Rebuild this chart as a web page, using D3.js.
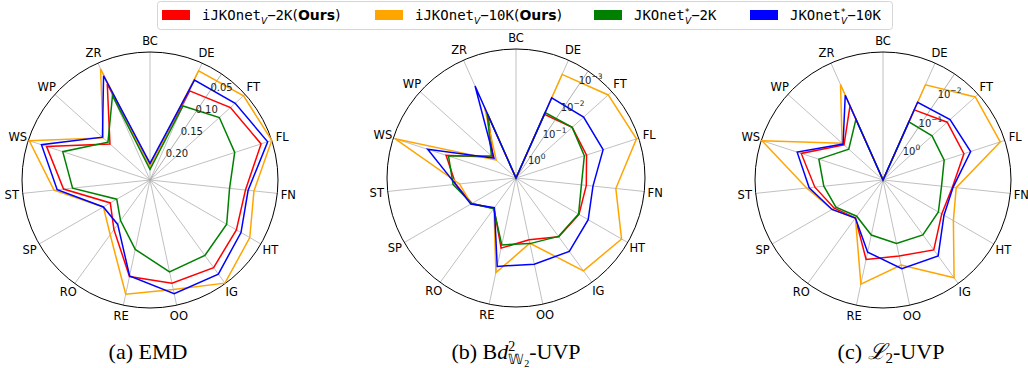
<!DOCTYPE html>
<html>
<head>
<meta charset="utf-8">
<script src="https://cdn.jsdelivr.net/npm/d3@7"></script>
<style>
body { margin: 0; background: #fff; }
</style>
</head>
<body>
<div id="container"></div>
<script>
// ---- data ----
var categories = ["BC", "DE", "FT", "FL", "FN", "HT", "IG", "OO", "RE", "RO", "SP", "ST", "WS", "WP", "ZR"];
var seriesColors = ["#ff0000", "#ffa500", "#008000", "#0000ff"];

// (a) EMD  (lower is better, axis inverted)
var emd_iJKOnet_2K  = [0.241, 0.087, 0.067, 0.051, 0.090, 0.083, 0.067, 0.072, 0.085, 0.155, 0.184, 0.107, 0.066, 0.169, 0.073];
var emd_iJKOnet_10K = [0.244, 0.046, 0.034, 0.030, 0.074, 0.054, 0.031, 0.060, 0.051, 0.143, 0.169, 0.089, 0.032, 0.152, 0.042];
var emd_JKOnet_2K   = [0.250, 0.118, 0.095, 0.103, 0.120, 0.104, 0.095, 0.094, 0.137, 0.176, 0.198, 0.124, 0.098, 0.164, 0.097];
var emd_JKOnet_10K  = [0.239, 0.065, 0.055, 0.038, 0.085, 0.073, 0.052, 0.052, 0.086, 0.167, 0.169, 0.095, 0.056, 0.150, 0.056];

// (b) Bd^2_W2-UVP (log, inverted)
var bw_iJKOnet_2K  = [10, 0.0446, 0.0291, 0.0322, 0.0414, 0.0357, 0.0357, 0.0708, 0.0385, 0.451, 0.171, 0.0853, 0.0338, 0.716, 0.0489];
var bw_iJKOnet_10K = [10, 0.00193, 0.000897, 0.000745, 0.00492, 0.00105, 0.00175, 0.0552, 0.00638, 0.451, 0.163, 0.1125, 0.000711, 0.973, 0.0256];
var bw_JKOnet_2K   = [10, 0.0388, 0.0291, 0.0381, 0.0589, 0.0371, 0.0371, 0.0537, 0.0489, 0.435, 0.171, 0.0708, 0.0406, 0.618, 0.0406];
var bw_JKOnet_10K  = [10, 0.0122, 0.00968, 0.00924, 0.0256, 0.0167, 0.00986, 0.0119, 0.0101, 0.472, 0.156, 0.0853, 0.00843, 0.785, 0.00483];

// (c) L2-UVP (log, inverted)
var l2_iJKOnet_2K  = [20, 0.0839, 0.0439, 0.0479, 0.135, 0.154, 0.0439, 0.0791, 0.0620, 0.631, 0.336, 0.147, 0.045, 0.435, 0.0625];
var l2_iJKOnet_10K = [20, 0.0131, 0.00341, 0.00362, 0.104, 0.0620, 0.00424, 0.042, 0.0113, 0.631, 0.282, 0.0839, 0.00277, 0.366, 0.0129];
var l2_JKOnet_2K   = [20, 0.205, 0.174, 0.195, 0.282, 0.2, 0.154, 0.188, 0.336, 0.731, 0.382, 0.27, 0.158, 0.67, 0.168];
var l2_JKOnet_10K  = [20, 0.0479, 0.0338, 0.0297, 0.129, 0.129, 0.0265, 0.033, 0.103, 0.631, 0.282, 0.0998, 0.0338, 0.399, 0.0284];

var emdTicks = [0.05, 0.10, 0.15, 0.20];
var bwTicks = [1e-3, 1e-2, 1e-1, 1];
var l2Ticks = [1e-2, 1e-1, 1];

var legendItems = [
	{ name: "iJKOnet", star: false, size: "2K", ours: true },
	{ name: "iJKOnet", star: false, size: "10K", ours: true },
	{ name: "JKOnet", star: true, size: "2K", ours: false },
	{ name: "JKOnet", star: true, size: "10K", ours: false }
];

// ---- setup ----
var svg = d3.select("#container").append("svg")
	.attr("width", 1028)
	.attr("height", 368)
	.style("font-family", "'DejaVu Sans', sans-serif");

var nCat = categories.length;
var angle = d3.scaleLinear().domain([0, nCat]).range([0, 2 * Math.PI]);
var rLabelAngle = 34 * Math.PI / 180;

function logLabel(sel, v)
{
	var e = Math.round(Math.log10(v));
	sel.append("tspan").text("10");
	sel.append("tspan").attr("dy", -5).style("font-size", "7.5px")
		.text(e < 0 ? "\u2212" + (-e) : "" + e);
}

function drawRadar(p)
{
	var g = svg.append("g").attr("transform", "translate(" + p.cx + "," + p.cy + ")");
	var r = p.scale.range([0, p.R]).clamp(true);

	// spokes
	g.selectAll(null).data(categories).enter().append("line")
		.attr("x1", 0).attr("y1", 0)
		.attr("x2", function(d, i) { return p.R * Math.sin(angle(i)); })
		.attr("y2", function(d, i) { return -p.R * Math.cos(angle(i)); })
		.style("stroke", "#b0b0b0")
		.style("stroke-width", 0.8);

	// radial label line
	g.append("line")
		.attr("x1", 0).attr("y1", 0)
		.attr("x2", p.R * Math.sin(rLabelAngle))
		.attr("y2", -p.R * Math.cos(rLabelAngle))
		.style("stroke", "#9a9a9a")
		.style("stroke-width", 0.8);

	g.append("circle").attr("r", p.R)
		.style("fill", "none").style("stroke", "#000").style("stroke-width", 1);

	// series
	var line = d3.lineRadial()
		.angle(function(d, i) { return angle(i); })
		.radius(function(d) { return r(d); })
		.curve(d3.curveLinearClosed);
	p.series.forEach(function(vals, k)
	{
		g.append("path")
			.attr("d", line(vals))
			.style("fill", "none")
			.style("stroke", seriesColors[k])
			.style("stroke-width", 1.5)
			.style("stroke-linejoin", "miter");
	});

	// radial tick labels
	p.ticks.forEach(function(t)
	{
		var rr = r(t);
		var txt = g.append("text")
			.attr("x", rr * Math.sin(rLabelAngle) + 6)
			.attr("y", -rr * Math.cos(rLabelAngle) + 8)
			.attr("text-anchor", "middle")
			.style("font-size", "10px")
			.style("fill", "#222");
		if (p.log) logLabel(txt, t);
		else txt.text(d3.format(".2f")(t));
	});

	// category labels
	g.selectAll(null).data(categories).enter().append("text")
		.attr("x", function(d, i) { return (p.R + 11) * Math.sin(angle(i)); })
		.attr("y", function(d, i) { return -(p.R + 11) * Math.cos(angle(i)); })
		.attr("text-anchor", "middle")
		.attr("dominant-baseline", "central")
		.style("font-size", "11.5px")
		.text(function(d) { return d; });
}

drawRadar({ cx: 150, cy: 180, R: 128, scale: d3.scaleLinear().domain([0.27, 0.03]), log: false,
	ticks: emdTicks, series: [emd_iJKOnet_2K, emd_iJKOnet_10K, emd_JKOnet_2K, emd_JKOnet_10K] });
drawRadar({ cx: 516, cy: 178, R: 129, scale: d3.scaleLog().domain([6.61, 6.31e-4]), log: true,
	ticks: bwTicks, series: [bw_iJKOnet_2K, bw_iJKOnet_10K, bw_JKOnet_2K, bw_JKOnet_10K] });
drawRadar({ cx: 883, cy: 180, R: 128, scale: d3.scaleLog().domain([15.1, 2.63e-3]), log: true,
	ticks: l2Ticks, series: [l2_iJKOnet_2K, l2_iJKOnet_10K, l2_JKOnet_2K, l2_JKOnet_10K] });

// ---- legend ----
var legend = svg.append("g");
legend.append("rect")
	.attr("x", 157.5).attr("y", 1.5).attr("width", 735).attr("height", 28)
	.attr("rx", 3)
	.style("fill", "#fff").style("fill-opacity", 0.8)
	.style("stroke", "#d5d5d5").style("stroke-width", 1);

var patchX = [162, 375, 594, 750];
legendItems.forEach(function(it, k)
{
	legend.append("rect")
		.attr("x", patchX[k]).attr("y", 10).attr("width", 28).attr("height", 10)
		.style("fill", seriesColors[k]);
	var t = legend.append("text")
		.attr("x", patchX[k] + 40).attr("y", 20)
		.style("font-size", "14px")
		.style("font-family", "'DejaVu Sans Mono', monospace");
	t.append("tspan").text(it.name);
	if (it.star)
	{
		t.append("tspan").attr("dy", -5).style("font-size", "9px").text("*");
		t.append("tspan").attr("dx", -5).attr("dy", 9).style("font-size", "9px")
			.style("font-style", "italic").style("font-family", "'DejaVu Sans', sans-serif").text("V");
		t.append("tspan").attr("dy", -4).text("\u2212" + it.size);
	}
	else
	{
		t.append("tspan").attr("dy", 4).style("font-size", "9px")
			.style("font-style", "italic").style("font-family", "'DejaVu Sans', sans-serif").text("V");
		t.append("tspan").attr("dy", -4).text("\u2212" + it.size);
	}
	if (it.ours)
	{
		t.append("tspan").style("font-family", "'DejaVu Sans', sans-serif").text("(");
		t.append("tspan").style("font-family", "'DejaVu Sans', sans-serif").style("font-weight", "bold").text("Ours");
		t.append("tspan").style("font-family", "'DejaVu Sans', sans-serif").text(")");
	}
});

// ---- captions ----
var capFont = "'Liberation Serif', 'Times New Roman', serif";
svg.append("text").attr("x", 148).attr("y", 359).attr("text-anchor", "middle")
	.style("font-family", capFont).style("font-size", "22px").text("(a) EMD");

var capB = svg.append("text").attr("x", 516).attr("y", 359).attr("text-anchor", "middle")
	.style("font-family", capFont).style("font-size", "22px");
capB.append("tspan").text("(b) B");
capB.append("tspan").style("font-style", "italic").text("d");
capB.append("tspan").attr("dy", -8).style("font-size", "14px").text("2");
capB.append("tspan").attr("dx", -7).attr("dy", 13).style("font-size", "14px").text("\uD835\uDD4E");
capB.append("tspan").attr("dy", 3).style("font-size", "10px").text("2");
capB.append("tspan").attr("dy", -8).text("-UVP");

var capC = svg.append("text").attr("x", 891).attr("y", 359).attr("text-anchor", "middle")
	.style("font-family", capFont).style("font-size", "22px");
capC.append("tspan").text("(c) ");
capC.append("tspan").style("font-family", "'DejaVu Serif', serif").style("font-style", "italic").text("\u2112");
capC.append("tspan").attr("dy", 4).style("font-size", "15px").text("2");
capC.append("tspan").attr("dy", -4).text("-UVP");
</script>
</body>
</html>
